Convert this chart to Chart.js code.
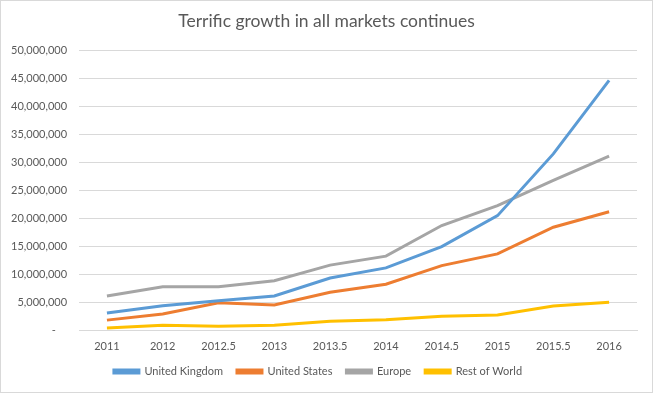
<!DOCTYPE html>
<html>
<head>
<meta charset="utf-8">
<script src="https://cdn.jsdelivr.net/npm/chart.js@4/dist/chart.umd.min.js"></script>
<style>
  html, body { margin: 0; padding: 0; background: #fff; }
  #wrap { position: absolute; left: 0; top: 0; width: 651px; height: 391px; border: 1px solid #d9d9d9; }
</style>
</head>
<body>
<div id="wrap"><canvas id="chart" width="651" height="391"></canvas></div>
<script>
var years = ['2011', '2012', '2012.5', '2013', '2013.5', '2014', '2014.5', '2015', '2015.5', '2016'];
var unitedKingdom = [3160000, 4460000, 5360000, 6200000, 9400000, 11200000, 15000000, 20500000, 31500000, 44600000];
var unitedStates = [1900000, 3000000, 5000000, 4600000, 6850000, 8300000, 11600000, 13700000, 18450000, 21200000];
var europe = [6200000, 7850000, 7850000, 8900000, 11700000, 13300000, 18750000, 22300000, 26800000, 31100000];
var restOfWorld = [500000, 1000000, 800000, 1000000, 1700000, 1950000, 2600000, 2800000, 4400000, 5100000];

var FONT = 'Lato, "Open Sans", sans-serif';
var TEXT = '#595959';

function makeSet(label, data, color) {
    return {
        label: label,
        data: data,
        borderColor: color,
        backgroundColor: color,
        borderWidth: 3,
        pointRadius: 0,
        tension: 0,
        fill: false
    };
}

// center the title over the whole canvas and pull the legend up a bit
var placeBoxes = {
    id: 'placeBoxes',
    afterLayout: function (chart) {
        chart.titleBlock.left = 0;
        chart.titleBlock.right = chart.width;
        chart.titleBlock.width = chart.width;
        chart.legend.top -= 10;
        chart.legend.bottom -= 10;
    }
};

var ctx = document.getElementById('chart').getContext('2d');
var chart = new Chart(ctx, {
    type: 'line',
    data: {
        labels: years,
        datasets: [
            makeSet('United Kingdom', unitedKingdom, '#5b9bd5'),
            makeSet('United States', unitedStates, '#ed7d31'),
            makeSet('Europe', europe, '#a5a5a5'),
            makeSet('Rest of World', restOfWorld, '#ffc000')
        ]
    },
    options: {
        responsive: false,
        animation: false,
        layout: { padding: { left: -2, right: 15, top: 8, bottom: -5 } },
        plugins: {
            title: {
                display: true,
                text: 'Terrific growth in all markets continues',
                color: TEXT,
                font: { family: FONT, size: 17.5, weight: 'normal' },
                padding: { top: 2, bottom: 18 }
            },
            legend: {
                position: 'bottom',
                labels: {
                    color: TEXT,
                    font: { family: FONT, size: 11 },
                    boxWidth: 25,
                    boxHeight: 3,
                    padding: 14
                }
            },
            tooltip: { enabled: false }
        },
        scales: {
            x: {
                offset: true,
                grid: { display: false, drawTicks: false },
                border: { color: '#d9d9d9' },
                ticks: { color: TEXT, font: { family: FONT, size: 11 }, padding: 9, maxRotation: 0 }
            },
            y: {
                min: 0,
                max: 50000000,
                grid: { color: '#d9d9d9', drawTicks: false },
                border: { display: false },
                ticks: {
                    stepSize: 5000000,
                    color: TEXT,
                    font: { family: FONT, size: 11 },
                    padding: 12,
                    callback: function (v) { return v === 0 ? '-    ' : v.toLocaleString('en-US'); }
                }
            }
        }
    },
    plugins: [placeBoxes]
});
</script>
</body>
</html>
